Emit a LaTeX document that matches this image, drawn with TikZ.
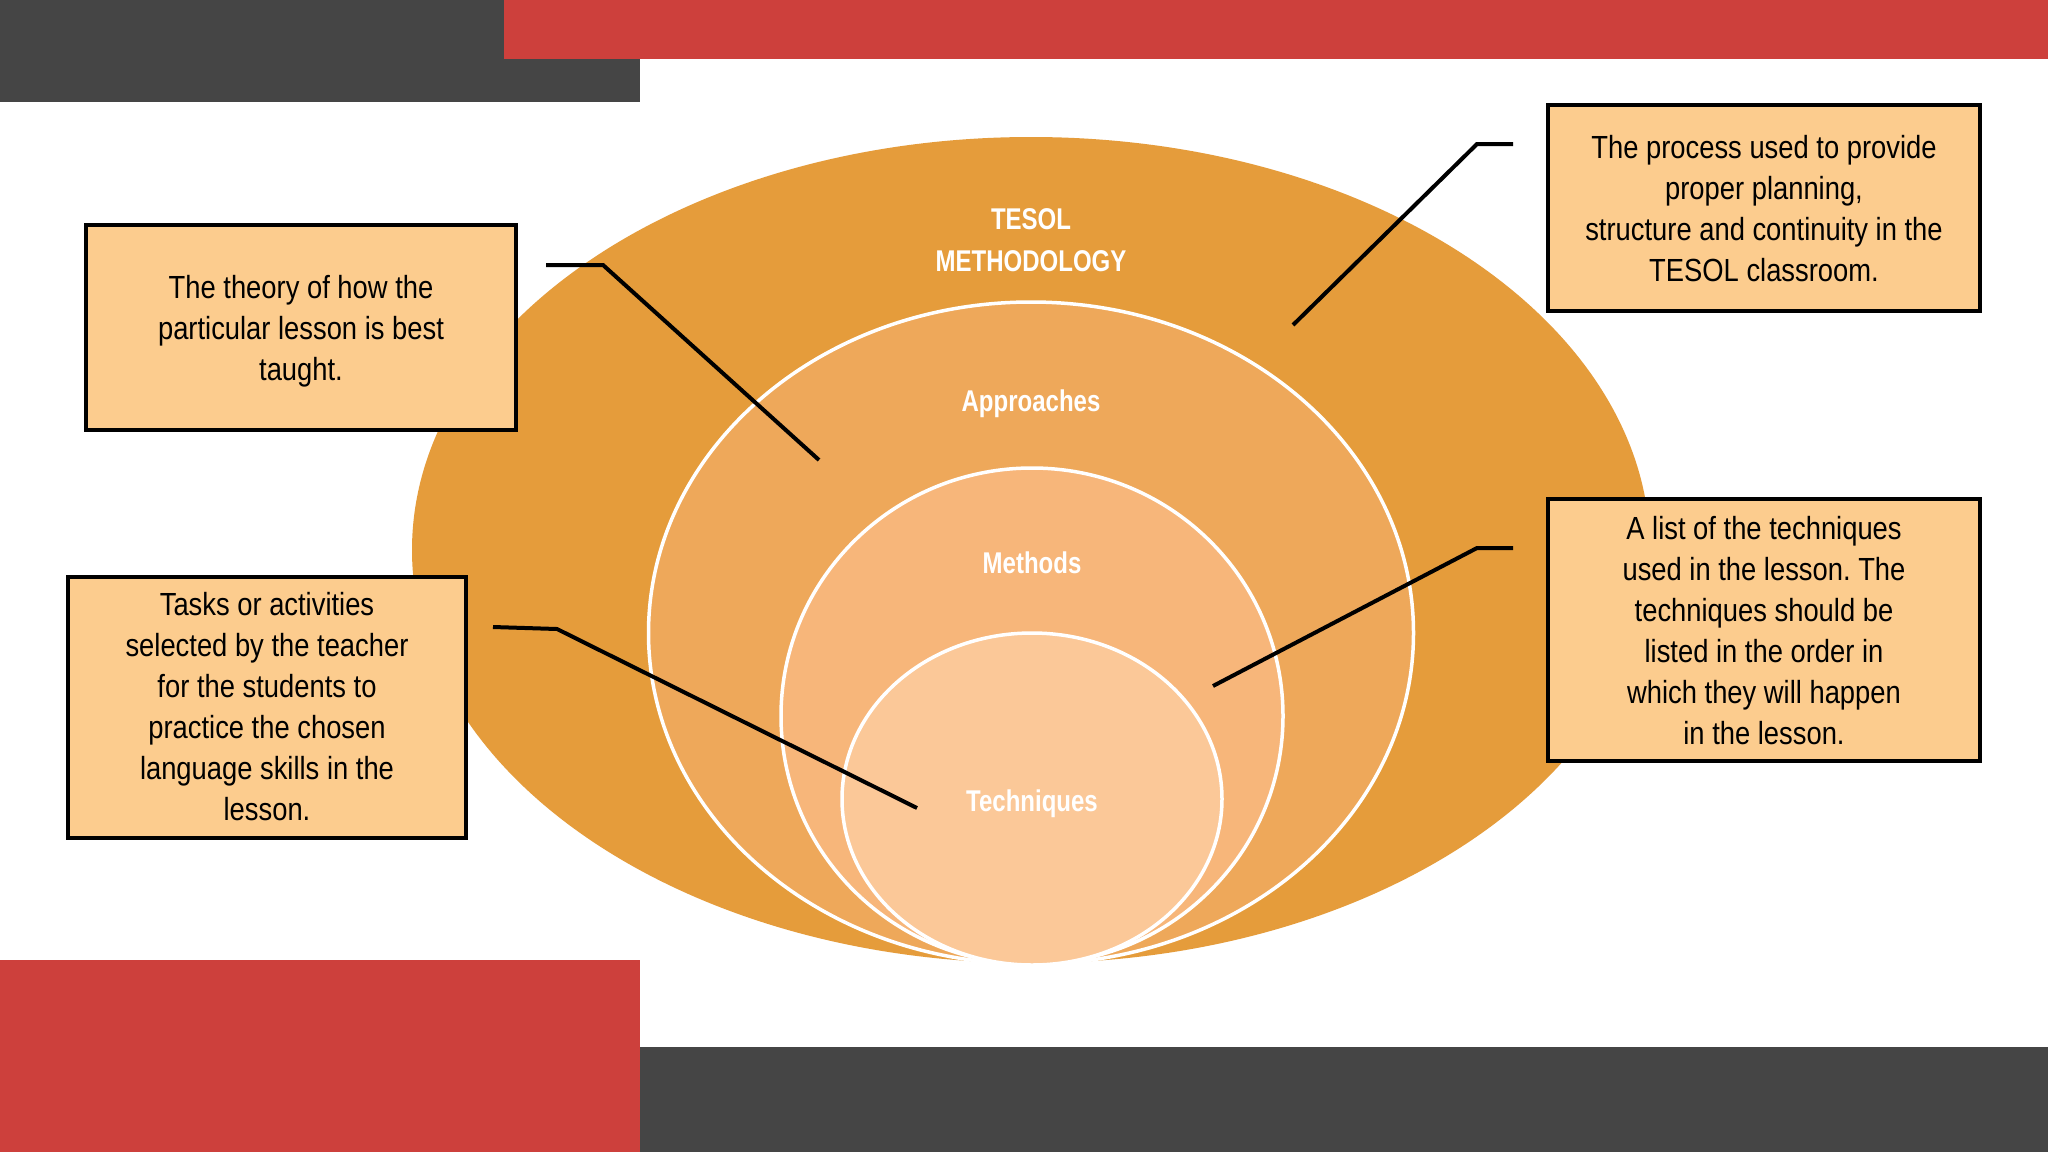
\documentclass[tikz,border=0pt]{standalone}
\usepackage{fontspec}
\setmainfont{Liberation Sans}
\newfontfamily\boxfont[FakeStretch=0.855]{Liberation Sans}
\newfontfamily\lblfont[FakeStretch=0.8]{Liberation Sans}
\usetikzlibrary{shapes.geometric}
\frenchspacing
\definecolor{darkbar}{RGB}{69,69,69}
\definecolor{redbar}{RGB}{205,64,60}
\definecolor{ringA}{RGB}{229,156,59}
\definecolor{ringB}{RGB}{238,168,90}
\definecolor{ringC}{RGB}{247,182,122}
\definecolor{ringD}{RGB}{251,200,152}
\definecolor{boxfill}{RGB}{252,204,142}
\begin{document}
\begin{tikzpicture}[x=1pt,y=-1pt,
  ring/.style={ellipse, inner sep=0pt, outer sep=0pt, draw=white, line width=3.5pt},
  lbl/.style={text=white, font=\lblfont\bfseries\fontsize{30}{42}\selectfont, align=center},
  descbox/.style={draw=black, line width=4pt, fill=boxfill, align=center, inner sep=0pt,
    font=\boxfont\frenchspacing\fontsize{32}{41}\selectfont},
  desctext/.style={align=center, inner sep=0pt, font=\boxfont\frenchspacing\fontsize{32}{41}\selectfont},
  leader/.style={draw=black, line width=4pt, line cap=butt, line join=miter}]
\path[use as bounding box, fill=white] (0,0) rectangle (2048,1152);
% corner bars
\fill[darkbar] (0,0) rectangle (640,102);
\fill[redbar] (504,0) rectangle (2048,59);
\fill[redbar] (0,960) rectangle (640,1152);
\fill[darkbar] (640,1047) rectangle (2048,1152);
% nested ellipses
\node[ellipse, fill=ringA, inner sep=0pt, minimum width=1238pt, minimum height=826pt] (outer) at (1031,550) {};
\node[ring, fill=ringB, minimum width=765pt, minimum height=662pt] (appr) at (1031,633) {};
\node[ring, fill=ringC, minimum width=502pt, minimum height=496pt] (meth) at (1032,716) {};
\node[ring, fill=ringD, minimum width=380pt, minimum height=332pt] (tech) at (1032,799) {};
% labels
\node[lbl] (tesol) at (1031,240) {TESOL\\METHODOLOGY};
\node[lbl] (apprl) at (1031,404) {Approaches};
\node[lbl] (methl) at (1032,563) {Methods};
\node[lbl] (techl) at (1032,804) {Techniques};
% description boxes
\node[descbox, minimum width=430pt, minimum height=205pt] (theory) at (301,327) {};
\node[desctext] (theoryt) at (301,331)
  {The theory of how the\\particular lesson is best\\taught.};
\node[descbox, minimum width=398pt, minimum height=261pt] (tasks) at (267,707) {};
\node[desctext] (taskst) at (267,707)
  {Tasks or activities\\selected by the teacher\\for the students to\\practice the chosen\\language skills in the\\lesson.};
\node[descbox, minimum width=432pt, minimum height=206pt] (process) at (1764,208) {};
\node[desctext] (processt) at (1764,209)
  {The process used to provide\\proper planning,\\structure and continuity in the\\TESOL classroom.};
\node[descbox, minimum width=432pt, minimum height=262pt] (list) at (1764,630) {};
\node[desctext] (listt) at (1764,631)
  {A list of the techniques\\used in the lesson. The\\techniques should be\\listed in the order in\\which they will happen\\in the lesson.};
% leader lines
\coordinate (a1) at (546,265); \coordinate (a2) at (603,265); \coordinate (a3) at (819,460);
\coordinate (b1) at (493,627); \coordinate (b2) at (557,629); \coordinate (b3) at (917,808);
\coordinate (c1) at (1513,144); \coordinate (c2) at (1477,144); \coordinate (c3) at (1293,325);
\coordinate (d1) at (1513,548); \coordinate (d2) at (1477,548); \coordinate (d3) at (1213,686);
\draw[leader] (a1) -- (a2) -- (a3);
\draw[leader] (b1) -- (b2) -- (b3);
\draw[leader] (c1) -- (c2) -- (c3);
\draw[leader] (d1) -- (d2) -- (d3);
\end{tikzpicture}
\end{document}
